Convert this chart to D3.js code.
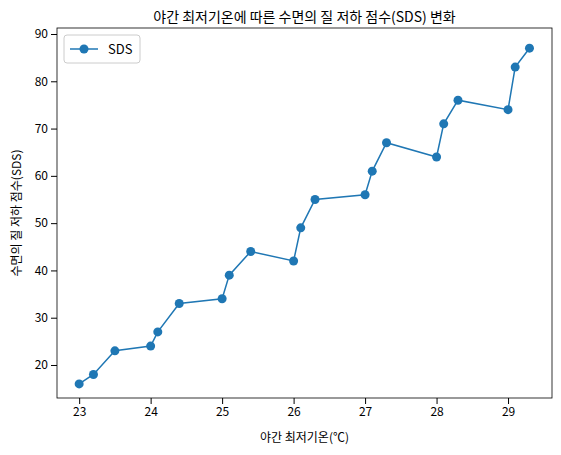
<!DOCTYPE html>
<html><head><meta charset="utf-8">
<script src="https://cdn.jsdelivr.net/npm/d3@7"></script>
<style>body{margin:0;background:#fff}text{font-family:"Noto Sans CJK KR","Noto Sans",sans-serif}</style>
</head><body><svg width="561" height="455"></svg>
<script>
const temps = [23, 23.2, 23.5, 24, 24.1, 24.4, 25, 25.1, 25.4, 26, 26.1, 26.3, 27, 27.1, 27.3, 28, 28.1, 28.3, 29, 29.1, 29.3]
const sds = [16, 18, 23, 24, 27, 33, 34, 39, 44, 42, 49, 55, 56, 61, 67, 64, 71, 76, 74, 83, 87]
const xTicks = [23, 24, 25, 26, 27, 28, 29]
const yTicks = [20, 30, 40, 50, 60, 70, 80, 90]

const svg = d3.select("svg")
const m = {l: 57, r: 552, t: 28, b: 398}
const color = "#1f77b4"

const x = d3.scaleLinear().domain([22.69, 29.615]).range([m.l, m.r])
const y = d3.scaleLinear().domain([13.02, 91.27]).range([m.b, m.t])

svg.append("g").attr("transform", `translate(0,${m.b})`)
	.call(d3.axisBottom(x).tickValues(xTicks).tickFormat(d3.format("d")).tickSizeOuter(0))
svg.append("g").attr("transform", `translate(${m.l},0)`)
	.call(d3.axisLeft(y).tickValues(yTicks).tickSizeOuter(0))
svg.selectAll(".tick text").attr("font-size", 12).attr("fill", "#000")
svg.selectAll(".domain").remove()
svg.append("rect").attr("x", m.l).attr("y", m.t).attr("width", m.r - m.l).attr("height", m.b - m.t)
	.attr("fill", "none").attr("stroke", "#000").attr("stroke-width", 0.8)

const pts = temps.map((t, i) => [t, sds[i]])
svg.append("path").datum(pts)
	.attr("fill", "none").attr("stroke", color).attr("stroke-width", 1.5)
	.attr("d", d3.line().x(d => x(d[0])).y(d => y(d[1])))
svg.append("g").selectAll("circle").data(pts).join("circle")
	.attr("cx", d => x(d[0])).attr("cy", d => y(d[1])).attr("r", 4.5).attr("fill", color)

svg.append("text").attr("x", (m.l + m.r) / 2).attr("y", 22).attr("text-anchor", "middle")
	.attr("font-size", 14).text("야간 최저기온에 따른 수면의 질 저하 점수(SDS) 변화")
svg.append("text").attr("x", (m.l + m.r) / 2).attr("y", 442).attr("text-anchor", "middle")
	.attr("font-size", 12).text("야간 최저기온(℃)")
svg.append("text").attr("transform", `translate(21,${(m.t + m.b) / 2}) rotate(-90)`).attr("text-anchor", "middle")
	.attr("font-size", 12).text("수면의 질 저하 점수(SDS)")

// legend
const lg = svg.append("g").attr("transform", `translate(${m.l + 7},${m.t + 7})`)
lg.append("rect").attr("width", 76).attr("height", 28).attr("rx", 3)
	.attr("fill", "#fff").attr("stroke", "#ccc")
lg.append("line").attr("x1", 6).attr("x2", 34).attr("y1", 14).attr("y2", 14).attr("stroke", color).attr("stroke-width", 1.5)
lg.append("circle").attr("cx", 20).attr("cy", 14).attr("r", 4.5).attr("fill", color)
lg.append("text").attr("x", 44).attr("y", 19).attr("font-size", 13).text("SDS")
</script></body></html>
